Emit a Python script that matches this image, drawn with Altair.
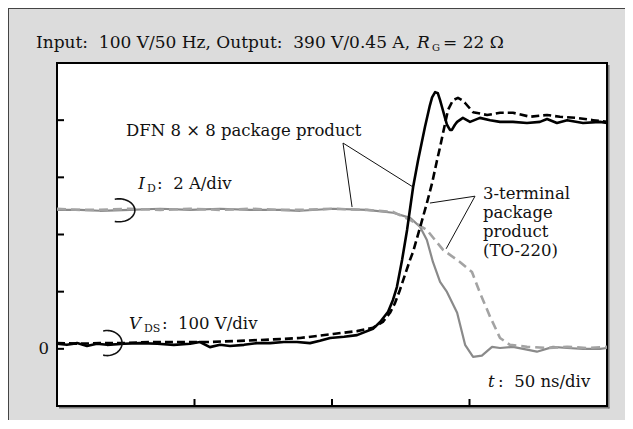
import altair as alt
import numpy as np
import pandas as pd

# ---- values ----
# time in ns (50 ns/div), V_DS in volts (100 V/div), I_D in amperes (2 A/div)
t_vds_dfn = [0, 3.6, 7.3, 10.9, 14.5, 18.2, 24.4, 30.2, 36.4, 42.5, 48.4, 52, 55.6, 59.3, 62.9,
             68, 72.7, 77.5, 82.5, 87.3, 92, 95.6, 99.3, 104.4, 109.1, 114.9, 117.5, 120.4,
             122.2, 123.6, 125.5, 127.3, 129.5, 131.3, 133.8, 135.6, 136.4, 137.5, 138.5, 139.3,
             140, 141.1, 141.8, 142.9, 143.6, 144.7, 145.5, 147.6, 150.2, 153.8, 157.5, 161.1,
             165.8, 170.9, 175.6, 178.2, 181.8, 185.5, 191.3, 197.5, 200]
vds_dfn = [9, 7, 10, 5, 9, 7, 9, 10, 9, 7, 9, 12, 3, 7, 5, 7, 10, 10, 12, 12, 10, 14, 19, 21, 24,
           35, 47, 65, 86, 108, 156, 208, 283, 330, 388, 426, 440, 449, 447, 435, 423, 404, 392,
           383, 383, 392, 397, 404, 397, 404, 400, 397, 397, 395, 397, 402, 395, 400, 395, 397, 395]

t_vds_to220 = [0, 8.4, 15.6, 22.9, 33.8, 44.7, 55.6, 66.5, 81.1, 88.4, 100.4, 109.1, 114.9, 118.5,
               121.1, 122.9, 124.7, 126.5, 128.4, 129.5, 132, 134.5, 136.4, 138.2, 139.3, 140.4,
               142.2, 144, 145.8, 147.3, 148.4, 151.3, 156.4, 161.1, 165.8, 172, 178.2, 182.9,
               189.1, 194.9, 200]
vds_to220 = [10, 9, 10, 10, 12, 12, 12, 14, 17, 19, 26, 31, 37, 47, 63, 80, 103, 129, 156, 170,
             212, 255, 290, 330, 353, 378, 418, 435, 439, 435, 430, 414, 409, 413, 413, 406, 409,
             406, 404, 400, 397]

t_id_dfn = [0, 8.4, 15.6, 26.5, 37.5, 48.4, 59.3, 70.2, 81.1, 88.4, 100.4, 112.7, 122.2, 128.4,
            132, 134.5, 136.7, 139.3, 141.8, 145.5, 148.4, 151.3, 154.5, 158.2, 161.1, 165.8,
            170.9, 174.5, 180.4, 185.5, 191.3, 197.5, 200]
id_dfn = [4.86, 4.86, 4.83, 4.86, 4.90, 4.86, 4.90, 4.86, 4.86, 4.83, 4.90, 4.86, 4.76, 4.58,
          4.27, 3.81, 3.04, 2.34, 1.99, 1.26, 0.14, -0.28, -0.24, 0.07, 0.03, 0.07, -0.03, -0.10,
          0.07, 0.03, 0, 0, 0.03]

t_id_to220 = [0, 8.4, 15.6, 26.5, 37.5, 48.4, 59.3, 70.2, 81.1, 88.4, 100.4, 112.7, 122.2, 128.4,
              134.5, 140.4, 146.5, 150.9, 153.8, 157.5, 161.1, 164.7, 170.9, 178.2, 185.5, 192.7, 200]
id_to220 = [4.90, 4.86, 4.86, 4.90, 4.86, 4.90, 4.86, 4.90, 4.86, 4.86, 4.90, 4.86, 4.79, 4.51,
            4.16, 3.46, 3.04, 2.69, 1.96, 1.12, 0.38, 0.14, 0.07, 0.03, 0.07, 0.03, 0.07]

V_PER_DIV = 100.0
A_PER_DIV = 2.0

x_ticks = [50, 100, 150]
y_ticks = [0, 1, 2, 3, 4]

# ---- layout / style ----
W, H = 550, 343
PAD = {"left": 49, "top": 55, "right": 18, "bottom": 14}
FONT = "DejaVu Serif"
INK = "#111111"
FS = 16.5
SUB = 11

xs = alt.Scale(domain=[0, 200], nice=False, zero=False)
ys = alt.Scale(domain=[-1, 5], nice=False, zero=False)
X = lambda f: alt.X(f, scale=xs, axis=None)
Y = lambda f: alt.Y(f, scale=ys, axis=None)


def trace(t, vals, per_div, color, width, dash=None):
    df = pd.DataFrame({"t": t, "d": np.asarray(vals, float) / per_div})
    kw = dict(color=color, strokeWidth=width, strokeJoin="round")
    if dash:
        kw["strokeDash"] = dash
    return alt.Chart(df).mark_line(**kw).encode(x=X("t:Q"), y=Y("d:Q"))


def loop(tc, dc, rx, ry):
    a = np.radians(np.linspace(-105, 105, 40))
    df = pd.DataFrame({"t": tc + rx * np.cos(a), "d": dc + ry * np.sin(a), "i": np.arange(40)})
    return alt.Chart(df).mark_line(color=INK, strokeWidth=1.6).encode(
        x=X("t:Q"), y=Y("d:Q"), order="i:Q")


def texts(items, size=FS, style="normal", align="left", baseline="alphabetic", dx=0):
    df = pd.DataFrame(items, columns=["label", "t", "d"])
    return alt.Chart(df).mark_text(font=FONT, fontSize=size, fontStyle=style, align=align,
                                   baseline=baseline, color=INK, dx=dx).encode(
        x=X("t:Q"), y=Y("d:Q"), text="label:N")


one = pd.DataFrame({"k": [0]})


def ptext(label, px, py, size=FS, style="normal"):
    return alt.Chart(one).mark_text(text=label, font=FONT, fontSize=size, fontStyle=style,
                                    align="left", baseline="alphabetic", color=INK).encode(
        x=alt.value(px), y=alt.value(py))


layers = []

# outer panel border (left/top edges)
layers.append(alt.Chart(one).mark_rule(color="#444", strokeWidth=1).encode(
    x=alt.value(-48.5), y=alt.value(-55), y2=alt.value(H + PAD["bottom"])))
layers.append(alt.Chart(one).mark_rule(color="#444", strokeWidth=1).encode(
    x=alt.value(-49), x2=alt.value(W + PAD["right"]), y=alt.value(-54.5)))

# frame shadow (right/bottom)
layers.append(alt.Chart(one).mark_rule(color="#777", strokeWidth=1.5).encode(
    x=alt.value(W + 1.8), y=alt.value(2), y2=alt.value(H + 2.5)))
layers.append(alt.Chart(one).mark_rule(color="#777", strokeWidth=1.5).encode(
    x=alt.value(2), x2=alt.value(W + 2.5), y=alt.value(H + 1.8)))

# inward ticks
layers.append(alt.Chart(pd.DataFrame({"t": x_ticks})).mark_rule(color="black", strokeWidth=2).encode(
    x=X("t:Q"), y=alt.value(H), y2=alt.value(H - 7)))
layers.append(alt.Chart(pd.DataFrame({"d": y_ticks})).mark_rule(color="black", strokeWidth=2).encode(
    y=Y("d:Q"), x=alt.value(0), x2=alt.value(7)))

# traces
layers.append(trace(t_id_dfn, id_dfn, A_PER_DIV, "#8a8a8a", 2.2))
layers.append(trace(t_id_to220, id_to220, A_PER_DIV, "#a3a3a3", 2.6, [9, 5]))
layers.append(trace(t_vds_to220, vds_to220, V_PER_DIV, "black", 2.6, [8, 4]))
layers.append(trace(t_vds_dfn, vds_dfn, V_PER_DIV, "black", 2.6))

# probe loops
layers.append(loop(22.5, 2.423, 5.8, 0.201))
layers.append(loop(18.2, 0.101, 5.45, 0.219))

# leader lines
lead = pd.DataFrame({"t": [104, 104, 152, 152], "d": [3.60, 3.60, 2.67, 2.67],
                     "t2": [107.3, 129.5, 135.6, 141.5], "d2": [2.48, 2.83, 2.55, 1.75]})
layers.append(alt.Chart(lead).mark_rule(color=INK, strokeWidth=1).encode(
    x=X("t:Q"), y=Y("d:Q"), x2="t2:Q", y2="d2:Q"))

# annotations
layers.append(texts([
    ("DFN 8 \u00d7 8 package product", 25.1, 3.723),
    (":\u00a0 2 A/div", 36.4, 2.796),
    (":\u00a0 100 V/div", 38.2, 0.347),
    ("3-terminal", 154.9, 2.621),
    ("package", 154.9, 2.289),
    ("product", 154.9, 1.956),
    ("(TO-220)", 154.9, 1.624),
    (":\u00a0 50 ns/div", 160.4, -0.668),
]))
layers.append(texts([("I", 29.5, 2.796), ("V", 26.2, 0.347), ("t", 156.7, -0.668)], style="italic"))
layers.append(texts([("D", 32.7, 2.743), ("DS", 31.6, 0.294)], size=SUB))
layers.append(texts([("0", 0, 0)], align="right", baseline="middle", dx=-8))

# title line
layers.append(ptext("Input:\u00a0 100 V/50 Hz, Output:\u00a0 390 V/0.45 A,", -21, -15, size=17))
layers.append(ptext("R", 360, -15, size=17, style="italic"))
layers.append(ptext("G", 375, -12, size=10))
layers.append(ptext("= 22 \u03a9", 386, -15, size=17))

chart = alt.layer(*layers).properties(
    width=W, height=H,
    autosize=alt.AutoSizeParams(type="none"),
    padding=PAD,
    background="#dcdcdc",
).configure_view(fill="white", stroke="black", strokeWidth=2)

chart.save("out.html", embed_options={"renderer": "svg", "actions": False})
